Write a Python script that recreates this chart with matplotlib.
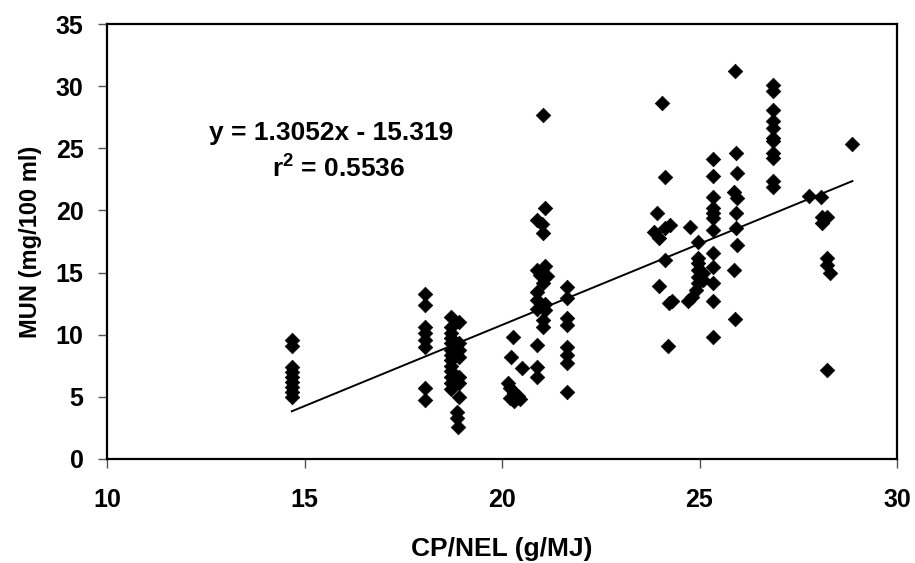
import matplotlib
matplotlib.use('Agg')
import matplotlib.pyplot as plt
import numpy as np

plt.rcParams['font.family'] = ['Liberation Sans', 'DejaVu Sans']
plt.rcParams['font.weight'] = 'bold'
plt.rcParams['mathtext.fontset'] = 'custom'
plt.rcParams['mathtext.rm'] = 'Liberation Sans:bold'
plt.rcParams['mathtext.bf'] = 'Liberation Sans:bold'

# ---- data ----
cp_nel = [
    # ~14.7
    14.68, 14.68, 14.68, 14.68, 14.68, 14.68, 14.68, 14.68, 14.68,
    # ~18.0
    18.05, 18.05, 18.05, 18.05, 18.05, 18.05, 18.05, 18.05,
    # ~18.7-18.9
    18.72, 18.72, 18.72, 18.72, 18.72, 18.72, 18.72, 18.72, 18.72, 18.72,
    18.72, 18.72, 18.72,
    18.9, 18.9, 18.9, 18.9, 18.9, 18.9, 18.9, 18.85, 18.85, 18.88,
    # ~20.3
    20.29, 20.22, 20.50, 20.15, 20.20, 20.30, 20.40, 20.30, 20.20, 20.45,
    # ~21.0
    21.05, 21.10, 20.88, 21.00, 21.05, 20.88, 21.10, 20.95, 21.15, 21.05,
    20.88, 20.88, 21.10, 20.88, 21.10, 21.05, 21.05, 20.88, 20.88, 20.88,
    # ~21.6
    21.64, 21.64, 21.64, 21.64, 21.64, 21.64, 21.64, 21.64,
    # ~24.0
    24.04, 24.13, 23.92, 23.85, 23.97, 24.13, 24.25, 24.13, 23.97, 24.30,
    24.22, 24.20,
    # ~25.0
    24.76, 24.97, 24.97, 24.97, 24.97, 24.97, 24.97, 24.90, 24.80, 24.72,
    25.10, 25.10,
    # ~25.4
    25.35, 25.35, 25.35, 25.35, 25.35, 25.35, 25.35, 25.35, 25.35, 25.35,
    25.35, 25.35,
    # ~25.9
    25.90, 25.93, 25.95, 25.88, 25.95, 25.93, 25.93, 25.95, 25.88, 25.90,
    # ~26.9
    26.87, 26.87, 26.87, 26.87, 26.87, 26.87, 26.87, 26.87, 26.87, 26.87,
    26.87,
    # ~28
    27.78, 28.07, 28.09, 28.22, 28.09, 28.22, 28.22, 28.30, 28.22, 28.87,
]

mun = [
    9.6, 9.1, 7.4, 7.0, 6.6, 6.2, 5.8, 5.4, 5.0,
    13.3, 12.4, 10.65, 10.1, 9.6, 9.05, 5.7, 4.75,
    11.45, 10.65, 10.1, 9.7, 9.3, 8.8, 8.4, 8.0, 7.5, 7.1,
    6.6, 6.1, 5.6,
    11.05, 9.3, 8.8, 8.2, 6.6, 6.1, 5.0, 3.8, 3.3, 2.6,
    9.85, 8.24, 7.3, 6.14, 5.74, 5.34, 5.07, 4.7, 4.93, 4.85,
    27.7, 20.18, 19.24, 18.9, 18.17, 15.2, 15.5, 14.8, 14.7, 14.15,
    13.4, 12.8, 12.5, 12.1, 12.0, 11.2, 10.65, 9.18, 7.43, 6.63,
    13.87, 12.94, 11.33, 10.79, 9.04, 8.37, 7.7, 5.42,
    28.64, 22.68, 19.83, 18.3, 17.77, 18.57, 18.79, 16.02, 13.93, 12.75,
    12.55, 9.12,
    18.7, 17.42, 16.16, 15.76, 15.22, 14.68, 14.15, 13.6, 13.07, 12.7,
    14.95, 14.41,
    24.13, 22.79, 21.12, 20.18, 19.78, 19.38, 18.44, 16.61, 15.48, 14.15,
    12.75, 9.85,
    31.19, 24.66, 23.0, 21.52, 20.99, 19.78, 18.57, 17.23, 15.22, 11.25,
    30.11, 29.58, 28.1, 27.16, 26.63, 25.82, 25.55, 24.61, 24.21, 22.33,
    21.92,
    21.18, 21.12, 19.51, 19.51, 18.98, 16.16, 15.62, 14.95, 7.17, 25.36,
]

slope = 1.3052
intercept = -15.319
eq_label = "y = 1.3052x - 15.319"
r2_label = r"r$^{\mathbf{2}}$ = 0.5536"

x_ticks = [10, 15, 20, 25, 30]
y_ticks = [0, 5, 10, 15, 20, 25, 30, 35]
x_title = "CP/NEL (g/MJ)"
y_title = "MUN (mg/100 ml)"

# ---- figure ----
fig = plt.figure(figsize=(9.15, 5.63), dpi=100)
ax = fig.add_axes([107/915, 1 - 459/563, (897 - 107)/915, (459 - 24)/563])

ax.scatter(cp_nel, mun, marker='D', s=55, color='black', edgecolors='black',
           linewidths=0.5, zorder=3)

xs = np.array([min(cp_nel), max(cp_nel)])
ax.plot(xs, slope * xs + intercept, color='black', lw=1.4, zorder=2)

ax.set_xlim(10, 30)
ax.set_ylim(0, 35)
ax.set_xticks(x_ticks)
ax.set_yticks(y_ticks)
ax.set_xticklabels([str(t) for t in x_ticks])
ax.set_yticklabels([str(t) for t in y_ticks])

for s in ax.spines.values():
    s.set_linewidth(1.6)
    s.set_color('black')

ax.tick_params(axis='both', direction='out', length=6.5, width=1.0, color='#555555',
               labelsize=18)
ax.tick_params(axis='x', pad=14.5)
ax.tick_params(axis='y', pad=10.5)

ax.set_xlabel(x_title, fontsize=19, fontweight='bold')
ax.set_ylabel(y_title, fontsize=17, fontweight='bold')
ax.xaxis.set_label_coords(0.5, (459 - 537) / 435)
ax.yaxis.set_label_coords((42 - 107) / 790, 0.5)

ax.text(15.67, 25.68, eq_label, ha='center', va='baseline', fontsize=19,
        fontweight='bold')
ax.text(15.87, 22.73, r2_label, ha='center', va='baseline', fontsize=19,
        fontweight='bold')

fig.savefig('out.png', dpi=100)
